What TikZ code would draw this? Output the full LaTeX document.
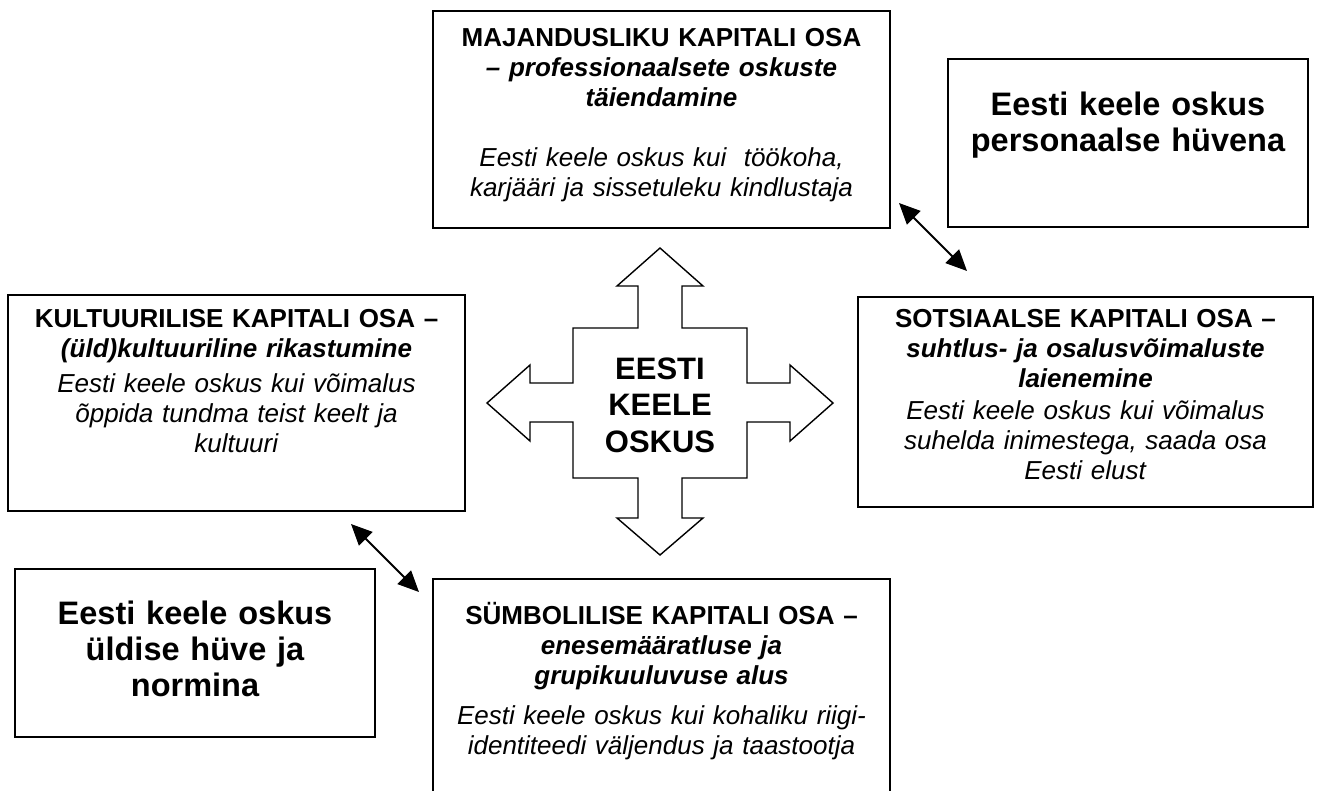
\documentclass[tikz,border=0pt]{standalone}
\usepackage{fontspec}
\setmainfont{Liberation Sans}
\usepackage{tikz}
\usetikzlibrary{arrows.meta, positioning, calc}
\tikzset{
  kast/.style={rectangle, draw=black, line width=2pt, inner sep=0pt},
  kasttekst/.style={text width=450pt, align=center, inner sep=0pt, anchor=base,
    font=\fontsize{26}{30}\selectfont},
  suurtekst/.style={text width=350pt, align=center, inner sep=0pt, anchor=base,
    font=\fontsize{32.5}{36}\selectfont\bfseries},
  keskus/.style={align=center, inner sep=0pt,
    font=\fontsize{31}{36.5}\selectfont\bfseries},
  rist/.style={draw=black, line width=1.4pt, fill=white, line join=miter},
  kahesuund/.style={{Triangle[length=21pt,width=19pt]}-{Triangle[length=21pt,width=19pt]},
    line width=2pt}
}

\begin{document}
\begin{tikzpicture}[x=1pt,y=-1pt]
  \clip (0,0) rectangle (1320,790);

  % Boxes
  \node[kast, minimum width=457pt, minimum height=217pt] (maj) at (661.5,119.5) {};
  \node[kast, minimum width=360pt, minimum height=168pt] (pers) at (1128,143) {};
  \node[kast, minimum width=457pt, minimum height=216pt] (kult) at (236.5,403) {};
  \node[kast, minimum width=455pt, minimum height=210pt] (sots) at (1085.5,402) {};
  \node[kast, minimum width=360pt, minimum height=168pt] (uld) at (195,653) {};
  \node[kast, minimum width=457pt, minimum height=217pt] (symb) at (661.5,687.5) {};

  % Box texts
  \node[kasttekst] (majtekst) at ([yshift=-36pt]maj.north)
    {\textbf{MAJANDUSLIKU KAPITALI OSA}\\
     \textbf{\itshape – professionaalsete oskuste}\\
     \textbf{\itshape täiendamine}\\[30pt]
     \textit{Eesti keele oskus kui\ \ töökoha,}\\
     \textit{karjääri ja sissetuleku kindlustaja}};
  \node[suurtekst] (perstekst) at ([yshift=-57.5pt]pers.north)
    {Eesti keele oskus\\personaalse hüvena};
  \node[kasttekst] (kulttekst) at ([yshift=-33pt]kult.north)
    {\textbf{KULTUURILISE KAPITALI OSA –}\\
     \textbf{\itshape (üld)kultuuriline rikastumine}\\[5pt]
     \textit{Eesti keele oskus kui võimalus}\\
     \textit{õppida tundma teist keelt ja}\\
     \textit{kultuuri}};
  \node[kasttekst] (sotstekst) at ([yshift=-31pt]sots.north)
    {\textbf{SOTSIAALSE KAPITALI OSA –}\\
     \textbf{\itshape suhtlus- ja osalusvõimaluste}\\
     \textbf{\itshape laienemine}\\[2pt]
     \textit{Eesti keele oskus kui võimalus}\\
     \textit{suhelda inimestega, saada osa}\\
     \textit{Eesti elust}};
  \node[suurtekst] (uldtekst) at ([yshift=-56pt]uld.north)
    {Eesti keele oskus\\üldise hüve ja\\normina};
  \node[kasttekst] (symbtekst) at ([yshift=-46pt]symb.north)
    {\textbf{SÜMBOLILISE KAPITALI OSA –}\\
     \textbf{\itshape enesemääratluse ja}\\
     \textbf{\itshape grupikuuluvuse alus}\\[10pt]
     \textit{Eesti keele oskus kui kohaliku riigi-}\\
     \textit{identiteedi väljendus ja taastootja}};

  % Four-way arrow in the middle
  \coordinate (kp) at (660,403);
  \begin{scope}[shift={(kp)}]
    \draw[rist] (0,-155) -- (43,-117) -- (22,-117) -- (22,-75) -- (87,-75)
      -- (87,-20) -- (130,-20) -- (130,-38) -- (173,0) -- (130,38) -- (130,19)
      -- (87,19) -- (87,75) -- (22,75) -- (22,115) -- (43,115) -- (0,152)
      -- (-43,115) -- (-22,115) -- (-22,75) -- (-87,75) -- (-87,19)
      -- (-130,19) -- (-130,38) -- (-173,0) -- (-130,-38) -- (-130,-20)
      -- (-87,-20) -- (-87,-75) -- (-22,-75) -- (-22,-117) -- (-43,-117) -- cycle;
  \end{scope}
  \node[keskus] (eko) at ([yshift=-2pt]kp) {EESTI\\KEELE\\OSKUS};

  % Double arrows
  \draw[kahesuund] ([shift={(8pt,26pt)}]maj.south east) -- ([shift={(110pt,25pt)}]sots.north west);
  \draw[kahesuund] ([shift={(-115pt,-12pt)}]kult.south east) -- ([shift={(-13pt,-14pt)}]symb.north west);
\end{tikzpicture}
\end{document}
